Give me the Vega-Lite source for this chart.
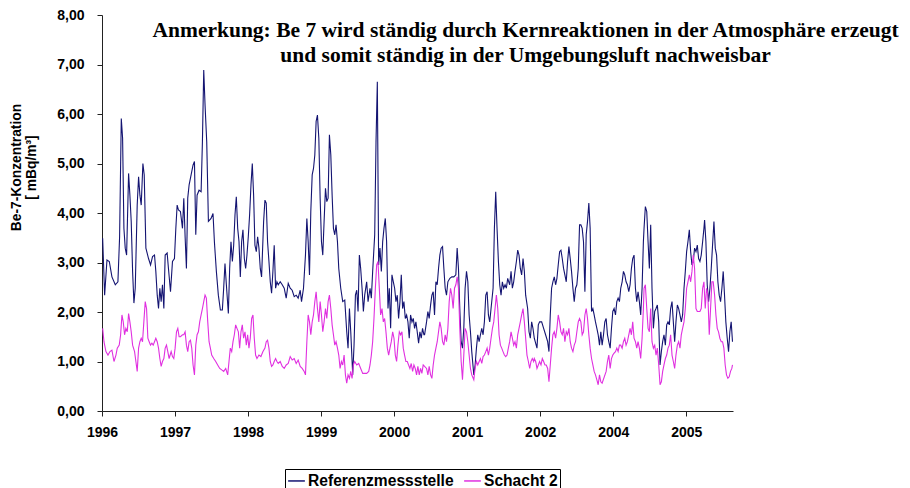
{
  "$schema": "https://vega.github.io/schema/vega-lite/v6.json",
  "width": 631,
  "height": 396,
  "autosize": {"type": "none"},
  "padding": {"left": 102, "top": 15, "right": 177, "bottom": 77},
  "background": "white",
  "config": {"view": {"stroke": null}, "font": "Liberation Sans"},
  "datasets": {
    "referenz": [
      {"t":1996.009,"v":3.49},{"t":1996.036,"v":2.34},{"t":1996.068,"v":3.05},{"t":1996.100,"v":3.02},{"t":1996.136,"v":2.71},{"t":1996.182,"v":2.55},{"t":1996.218,"v":2.61},{"t":1996.241,"v":3.52},{"t":1996.264,"v":5.91},{"t":1996.282,"v":5.51},{"t":1996.300,"v":3.69},{"t":1996.318,"v":3.29},{"t":1996.337,"v":3.15},{"t":1996.364,"v":4.80},{"t":1996.382,"v":4.36},{"t":1996.400,"v":3.83},{"t":1996.419,"v":2.82},{"t":1996.437,"v":2.18},{"t":1996.455,"v":2.48},{"t":1996.482,"v":4.16},{"t":1996.501,"v":4.73},{"t":1996.519,"v":4.36},{"t":1996.537,"v":4.16},{"t":1996.560,"v":5.00},{"t":1996.578,"v":4.77},{"t":1996.601,"v":3.29},{"t":1996.637,"v":3.08},{"t":1996.665,"v":2.95},{"t":1996.692,"v":3.12},{"t":1996.719,"v":3.15},{"t":1996.737,"v":2.82},{"t":1996.756,"v":2.34},{"t":1996.774,"v":2.07},{"t":1996.792,"v":2.48},{"t":1996.810,"v":2.21},{"t":1996.828,"v":2.55},{"t":1996.847,"v":2.07},{"t":1996.865,"v":3.15},{"t":1996.892,"v":3.19},{"t":1996.910,"v":2.88},{"t":1996.938,"v":2.41},{"t":1996.965,"v":3.02},{"t":1996.992,"v":3.08},{"t":1997.011,"v":3.69},{"t":1997.029,"v":4.16},{"t":1997.047,"v":4.06},{"t":1997.074,"v":4.03},{"t":1997.102,"v":3.69},{"t":1997.120,"v":4.30},{"t":1997.138,"v":3.52},{"t":1997.156,"v":2.88},{"t":1997.174,"v":4.30},{"t":1997.193,"v":4.57},{"t":1997.220,"v":4.77},{"t":1997.247,"v":4.97},{"t":1997.266,"v":5.04},{"t":1997.284,"v":3.56},{"t":1997.302,"v":4.36},{"t":1997.329,"v":4.46},{"t":1997.357,"v":4.43},{"t":1997.375,"v":5.44},{"t":1997.393,"v":6.89},
      {"t":1997.411,"v":6.18},{"t":1997.434,"v":5.44},{"t":1997.457,"v":3.83},{"t":1997.493,"v":3.89},{"t":1997.520,"v":3.99},{"t":1997.539,"v":3.42},{"t":1997.566,"v":2.82},{"t":1997.593,"v":2.34},{"t":1997.621,"v":2.04},{"t":1997.648,"v":2.04},{"t":1997.666,"v":2.48},{"t":1997.684,"v":2.98},{"t":1997.703,"v":2.55},{"t":1997.730,"v":1.97},{"t":1997.748,"v":2.88},{"t":1997.766,"v":3.42},{"t":1997.785,"v":3.02},{"t":1997.803,"v":3.35},{"t":1997.821,"v":3.96},{"t":1997.839,"v":4.33},{"t":1997.858,"v":3.69},{"t":1997.876,"v":3.42},{"t":1997.894,"v":2.71},{"t":1997.912,"v":3.42},{"t":1997.930,"v":3.66},{"t":1997.949,"v":3.08},{"t":1997.967,"v":2.88},{"t":1997.985,"v":3.15},{"t":1998.003,"v":3.52},{"t":1998.021,"v":3.96},{"t":1998.040,"v":4.57},{"t":1998.058,"v":5.00},{"t":1998.076,"v":4.36},{"t":1998.094,"v":3.35},{"t":1998.113,"v":3.22},{"t":1998.131,"v":3.52},{"t":1998.149,"v":3.29},{"t":1998.167,"v":2.88},{"t":1998.185,"v":2.71},{"t":1998.213,"v":3.83},{"t":1998.231,"v":4.26},{"t":1998.249,"v":4.20},{"t":1998.267,"v":3.42},{"t":1998.286,"v":3.02},{"t":1998.304,"v":2.61},{"t":1998.322,"v":2.38},{"t":1998.340,"v":2.82},{"t":1998.358,"v":3.35},{"t":1998.377,"v":2.48},{"t":1998.395,"v":2.61},{"t":1998.413,"v":2.55},{"t":1998.440,"v":2.61},{"t":1998.468,"v":2.55},{"t":1998.495,"v":2.48},{"t":1998.522,"v":2.28},{"t":1998.550,"v":2.58},{"t":1998.577,"v":2.48},{"t":1998.604,"v":2.44},{"t":1998.632,"v":2.31},{"t":1998.659,"v":2.34},{"t":1998.686,"v":2.28},{"t":1998.714,"v":2.44},{"t":1998.732,"v":2.21},{"t":1998.759,"v":2.48},{"t":1998.786,"v":3.15},{"t":1998.805,"v":3.89},{"t":1998.823,"v":3.42},{"t":1998.841,"v":2.75},{"t":1998.859,"v":4.03},{"t":1998.878,"v":4.77},{"t":1998.896,"v":4.90},
      {"t":1998.914,"v":5.17},{"t":1998.932,"v":5.85},{"t":1998.950,"v":5.98},{"t":1998.969,"v":5.51},{"t":1998.987,"v":4.30},{"t":1999.005,"v":3.42},{"t":1999.023,"v":3.15},{"t":1999.041,"v":3.83},{"t":1999.060,"v":4.50},{"t":1999.078,"v":4.23},{"t":1999.096,"v":4.30},{"t":1999.114,"v":5.58},{"t":1999.133,"v":5.17},{"t":1999.151,"v":4.36},{"t":1999.169,"v":3.69},{"t":1999.187,"v":3.56},{"t":1999.205,"v":3.76},{"t":1999.224,"v":3.42},{"t":1999.242,"v":2.88},{"t":1999.269,"v":2.48},{"t":1999.296,"v":2.21},{"t":1999.324,"v":2.24},{"t":1999.351,"v":1.60},{"t":1999.369,"v":1.27},{"t":1999.388,"v":2.07},{"t":1999.406,"v":1.60},{"t":1999.433,"v":0.73},{"t":1999.451,"v":1.33},{"t":1999.470,"v":2.34},{"t":1999.488,"v":2.44},{"t":1999.506,"v":2.01},{"t":1999.524,"v":3.15},{"t":1999.542,"v":2.88},{"t":1999.561,"v":2.48},{"t":1999.579,"v":2.01},{"t":1999.597,"v":2.34},{"t":1999.624,"v":2.61},{"t":1999.643,"v":2.21},{"t":1999.670,"v":2.48},{"t":1999.688,"v":2.28},{"t":1999.706,"v":2.82},{"t":1999.734,"v":3.56},{"t":1999.752,"v":5.44},{"t":1999.770,"v":6.65},{"t":1999.788,"v":2.95},{"t":1999.806,"v":3.29},{"t":1999.825,"v":2.82},{"t":1999.843,"v":3.42},{"t":1999.861,"v":3.69},{"t":1999.879,"v":3.89},{"t":1999.897,"v":3.42},{"t":1999.916,"v":2.07},{"t":1999.934,"v":2.48},{"t":1999.952,"v":1.67},{"t":1999.970,"v":2.75},{"t":1999.989,"v":2.61},{"t":2000.007,"v":2.48},{"t":2000.025,"v":2.21},{"t":2000.043,"v":2.34},{"t":2000.061,"v":1.87},{"t":2000.080,"v":2.21},{"t":2000.098,"v":2.75},{"t":2000.116,"v":2.07},{"t":2000.134,"v":2.21},{"t":2000.153,"v":1.87},{"t":2000.171,"v":1.94},{"t":2000.189,"v":1.80},{"t":2000.207,"v":1.47},{"t":2000.225,"v":1.94},{"t":2000.244,"v":1.80},{"t":2000.262,"v":1.87},{"t":2000.280,"v":1.67},{"t":2000.298,"v":1.80},{"t":2000.316,"v":1.60},{"t":2000.335,"v":1.37},{"t":2000.353,"v":1.60},{"t":2000.371,"v":1.47},{"t":2000.389,"v":1.67},{"t":2000.408,"v":1.54},
      {"t":2000.417,"v":1.54},{"t":2000.444,"v":1.80},{"t":2000.462,"v":2.01},{"t":2000.480,"v":1.87},{"t":2000.499,"v":2.14},{"t":2000.517,"v":2.34},{"t":2000.535,"v":2.41},{"t":2000.553,"v":1.94},{"t":2000.572,"v":2.61},{"t":2000.590,"v":2.55},{"t":2000.608,"v":2.88},{"t":2000.626,"v":3.15},{"t":2000.644,"v":3.29},{"t":2000.663,"v":3.32},{"t":2000.681,"v":2.88},{"t":2000.699,"v":2.48},{"t":2000.717,"v":2.34},{"t":2000.736,"v":2.61},{"t":2000.763,"v":2.68},{"t":2000.790,"v":2.71},{"t":2000.817,"v":2.71},{"t":2000.845,"v":2.75},{"t":2000.863,"v":3.29},{"t":2000.881,"v":2.88},{"t":2000.899,"v":2.07},{"t":2000.918,"v":1.40},{"t":2000.936,"v":1.27},{"t":2000.954,"v":1.67},{"t":2000.972,"v":2.48},{"t":2000.991,"v":2.82},{"t":2001.009,"v":2.61},{"t":2001.027,"v":1.94},{"t":2001.045,"v":1.60},{"t":2001.063,"v":1.20},{"t":2001.091,"v":0.73},{"t":2001.109,"v":0.93},{"t":2001.127,"v":1.27},{"t":2001.145,"v":1.54},{"t":2001.164,"v":1.40},{"t":2001.182,"v":1.54},{"t":2001.200,"v":1.67},{"t":2001.218,"v":1.54},{"t":2001.236,"v":1.80},{"t":2001.255,"v":2.34},{"t":2001.273,"v":2.41},{"t":2001.291,"v":1.94},{"t":2001.309,"v":1.80},{"t":2001.327,"v":2.07},{"t":2001.355,"v":2.48},{"t":2001.373,"v":3.69},{"t":2001.391,"v":4.43},{"t":2001.409,"v":3.69},{"t":2001.428,"v":3.02},{"t":2001.446,"v":2.55},{"t":2001.464,"v":2.34},{"t":2001.482,"v":2.61},{"t":2001.500,"v":2.48},{"t":2001.519,"v":2.55},{"t":2001.537,"v":2.48},{"t":2001.555,"v":2.68},{"t":2001.582,"v":2.55},{"t":2001.601,"v":2.82},{"t":2001.619,"v":2.48},{"t":2001.637,"v":2.61},{"t":2001.655,"v":2.82},{"t":2001.674,"v":3.02},{"t":2001.692,"v":3.25},{"t":2001.710,"v":3.15},{"t":2001.728,"v":2.88},{"t":2001.746,"v":2.75},{"t":2001.765,"v":3.08},{"t":2001.783,"v":2.82},{"t":2001.801,"v":2.34},{"t":2001.828,"v":2.07},{"t":2001.847,"v":1.60},{"t":2001.865,"v":1.47},{"t":2001.883,"v":1.80},{"t":2001.901,"v":1.67},
      {"t":2001.919,"v":1.47},{"t":2001.956,"v":1.27},{"t":2001.974,"v":1.74},{"t":2001.992,"v":1.80},{"t":2002.020,"v":1.80},{"t":2002.047,"v":1.67},{"t":2002.074,"v":1.54},{"t":2002.102,"v":1.40},{"t":2002.120,"v":1.20},{"t":2002.138,"v":1.94},{"t":2002.156,"v":2.48},{"t":2002.174,"v":2.61},{"t":2002.193,"v":2.71},{"t":2002.211,"v":2.55},{"t":2002.229,"v":2.68},{"t":2002.247,"v":2.95},{"t":2002.266,"v":3.22},{"t":2002.284,"v":3.25},{"t":2002.302,"v":3.08},{"t":2002.320,"v":2.88},{"t":2002.338,"v":2.75},{"t":2002.357,"v":2.61},{"t":2002.375,"v":3.02},{"t":2002.393,"v":3.32},{"t":2002.411,"v":3.08},{"t":2002.429,"v":2.82},{"t":2002.448,"v":2.48},{"t":2002.466,"v":2.21},{"t":2002.484,"v":2.48},{"t":2002.502,"v":2.55},{"t":2002.521,"v":2.88},{"t":2002.539,"v":3.76},{"t":2002.557,"v":3.76},{"t":2002.575,"v":3.69},{"t":2002.593,"v":3.42},{"t":2002.612,"v":2.41},{"t":2002.630,"v":3.56},{"t":2002.648,"v":3.83},{"t":2002.666,"v":4.20},{"t":2002.684,"v":3.69},{"t":2002.703,"v":2.01},{"t":2002.721,"v":2.07},{"t":2002.739,"v":1.94},{"t":2002.757,"v":1.80},{"t":2002.776,"v":1.67},{"t":2002.794,"v":1.54},{"t":2002.812,"v":1.33},{"t":2002.830,"v":1.60},{"t":2002.848,"v":1.33},{"t":2002.867,"v":1.54},{"t":2002.885,"v":1.80},{"t":2002.903,"v":1.87},{"t":2002.921,"v":1.54},{"t":2002.939,"v":1.40},{"t":2002.958,"v":1.27},{"t":2002.976,"v":1.67},{"t":2002.994,"v":2.01},{"t":2003.012,"v":2.07},{"t":2003.031,"v":1.94},{"t":2003.049,"v":2.21},{"t":2003.067,"v":2.28},{"t":2003.085,"v":2.21},{"t":2003.103,"v":2.48},{"t":2003.122,"v":2.61},{"t":2003.140,"v":2.82},{"t":2003.158,"v":2.75},{"t":2003.176,"v":2.61},{"t":2003.194,"v":2.55},{"t":2003.213,"v":2.41},{"t":2003.231,"v":2.55},{"t":2003.249,"v":2.88},{"t":2003.267,"v":3.08},{"t":2003.285,"v":3.15},{"t":2003.304,"v":2.48},{"t":2003.322,"v":2.21},{"t":2003.340,"v":2.41},{"t":2003.358,"v":2.21},{"t":2003.376,"v":1.94},{"t":2003.395,"v":2.48},{"t":2003.413,"v":3.42},
      {"t":2003.422,"v":3.69},{"t":2003.440,"v":4.13},{"t":2003.459,"v":4.03},{"t":2003.477,"v":3.42},{"t":2003.495,"v":2.88},{"t":2003.513,"v":3.76},{"t":2003.531,"v":2.48},{"t":2003.550,"v":1.67},{"t":2003.568,"v":2.01},{"t":2003.586,"v":2.07},{"t":2003.604,"v":2.14},{"t":2003.623,"v":1.80},{"t":2003.641,"v":0.93},{"t":2003.659,"v":1.20},{"t":2003.677,"v":1.40},{"t":2003.695,"v":1.54},{"t":2003.714,"v":1.33},{"t":2003.732,"v":1.74},{"t":2003.750,"v":1.80},{"t":2003.768,"v":1.74},{"t":2003.786,"v":2.07},{"t":2003.805,"v":2.21},{"t":2003.823,"v":1.80},{"t":2003.841,"v":1.40},{"t":2003.859,"v":1.80},{"t":2003.878,"v":2.14},{"t":2003.896,"v":2.07},{"t":2003.914,"v":1.94},{"t":2003.932,"v":1.80},{"t":2003.950,"v":1.94},{"t":2003.969,"v":2.48},{"t":2003.987,"v":2.82},{"t":2004.005,"v":3.22},{"t":2004.023,"v":3.42},{"t":2004.042,"v":3.66},{"t":2004.060,"v":3.22},{"t":2004.078,"v":2.95},{"t":2004.096,"v":3.02},{"t":2004.114,"v":3.29},{"t":2004.133,"v":3.22},{"t":2004.151,"v":3.35},{"t":2004.169,"v":3.08},{"t":2004.187,"v":3.02},{"t":2004.205,"v":3.15},{"t":2004.224,"v":3.42},{"t":2004.242,"v":3.69},{"t":2004.251,"v":3.86},{"t":2004.269,"v":3.42},{"t":2004.287,"v":2.55},{"t":2004.306,"v":2.21},{"t":2004.324,"v":2.48},{"t":2004.342,"v":2.88},{"t":2004.360,"v":3.35},{"t":2004.379,"v":3.83},{"t":2004.397,"v":3.29},{"t":2004.415,"v":3.15},{"t":2004.433,"v":2.61},{"t":2004.451,"v":2.34},{"t":2004.470,"v":2.21},{"t":2004.488,"v":2.48},{"t":2004.506,"v":2.82},{"t":2004.524,"v":2.34},{"t":2004.542,"v":1.80},{"t":2004.561,"v":1.47},{"t":2004.579,"v":1.20},{"t":2004.597,"v":1.60},{"t":2004.615,"v":1.80},{"t":2004.633,"v":1.40}
    ],
    "schacht": [
      {"t":1996.009,"v":1.67},{"t":1996.027,"v":1.40},{"t":1996.054,"v":1.20},{"t":1996.082,"v":1.13},{"t":1996.109,"v":1.20},{"t":1996.136,"v":1.23},{"t":1996.164,"v":1.00},{"t":1996.191,"v":1.13},{"t":1996.209,"v":1.27},{"t":1996.236,"v":1.33},{"t":1996.255,"v":1.54},{"t":1996.273,"v":1.94},{"t":1996.291,"v":1.80},{"t":1996.309,"v":1.54},{"t":1996.327,"v":1.67},{"t":1996.346,"v":1.60},{"t":1996.364,"v":1.97},{"t":1996.382,"v":1.80},{"t":1996.400,"v":1.60},{"t":1996.419,"v":1.33},{"t":1996.446,"v":1.20},{"t":1996.464,"v":1.00},{"t":1996.482,"v":0.80},{"t":1996.501,"v":1.27},{"t":1996.519,"v":1.40},{"t":1996.537,"v":1.47},{"t":1996.555,"v":1.40},{"t":1996.573,"v":1.80},{"t":1996.592,"v":2.21},{"t":1996.610,"v":2.07},{"t":1996.628,"v":1.47},{"t":1996.646,"v":1.40},{"t":1996.664,"v":1.33},{"t":1996.683,"v":1.37},{"t":1996.701,"v":1.33},{"t":1996.719,"v":1.40},{"t":1996.737,"v":1.47},{"t":1996.756,"v":1.40},{"t":1996.774,"v":1.27},{"t":1996.792,"v":1.06},{"t":1996.810,"v":0.90},{"t":1996.828,"v":1.00},{"t":1996.847,"v":1.06},{"t":1996.865,"v":1.27},{"t":1996.883,"v":1.33},{"t":1996.901,"v":1.20},{"t":1996.919,"v":1.06},{"t":1996.947,"v":1.20},{"t":1996.965,"v":1.10},{"t":1996.983,"v":1.06},{"t":1997.001,"v":1.27},{"t":1997.020,"v":1.60},{"t":1997.038,"v":1.67},{"t":1997.056,"v":1.50},{"t":1997.074,"v":1.50},{"t":1997.102,"v":1.54},{"t":1997.120,"v":1.54},{"t":1997.138,"v":1.60},{"t":1997.156,"v":1.33},{"t":1997.174,"v":1.20},{"t":1997.193,"v":1.40},{"t":1997.211,"v":1.43},{"t":1997.229,"v":1.27},{"t":1997.247,"v":0.93},{"t":1997.266,"v":0.73},{"t":1997.284,"v":1.33},{"t":1997.302,"v":1.54},{"t":1997.320,"v":1.60},{"t":1997.338,"v":1.80},{"t":1997.357,"v":1.94},{"t":1997.375,"v":2.07},{"t":1997.393,"v":2.21},
      {"t":1997.411,"v":2.34},{"t":1997.429,"v":2.28},{"t":1997.448,"v":1.80},{"t":1997.466,"v":1.40},{"t":1997.484,"v":1.27},{"t":1997.502,"v":1.13},{"t":1997.530,"v":1.06},{"t":1997.557,"v":1.00},{"t":1997.584,"v":0.93},{"t":1997.612,"v":0.86},{"t":1997.639,"v":0.83},{"t":1997.666,"v":0.80},{"t":1997.694,"v":0.86},{"t":1997.721,"v":0.73},{"t":1997.739,"v":1.00},{"t":1997.757,"v":1.27},{"t":1997.776,"v":1.20},{"t":1997.794,"v":1.40},{"t":1997.812,"v":1.54},{"t":1997.830,"v":1.74},{"t":1997.848,"v":1.67},{"t":1997.867,"v":1.60},{"t":1997.885,"v":1.27},{"t":1997.903,"v":1.60},{"t":1997.921,"v":1.74},{"t":1997.939,"v":1.47},{"t":1997.958,"v":1.60},{"t":1997.976,"v":1.33},{"t":1997.994,"v":1.54},{"t":1998.012,"v":1.27},{"t":1998.030,"v":1.47},{"t":1998.049,"v":1.87},{"t":1998.067,"v":1.94},{"t":1998.085,"v":1.47},{"t":1998.103,"v":1.13},{"t":1998.122,"v":1.06},{"t":1998.149,"v":1.13},{"t":1998.176,"v":1.10},{"t":1998.204,"v":1.20},{"t":1998.231,"v":1.27},{"t":1998.249,"v":1.40},{"t":1998.267,"v":1.43},{"t":1998.286,"v":1.27},{"t":1998.304,"v":1.00},{"t":1998.322,"v":0.90},{"t":1998.340,"v":0.93},{"t":1998.358,"v":1.00},{"t":1998.377,"v":1.06},{"t":1998.395,"v":1.00},{"t":1998.413,"v":0.96},{"t":1998.440,"v":1.00},{"t":1998.468,"v":0.90},{"t":1998.495,"v":0.86},{"t":1998.522,"v":0.93},{"t":1998.550,"v":0.96},{"t":1998.577,"v":1.10},{"t":1998.604,"v":1.03},{"t":1998.632,"v":1.06},{"t":1998.659,"v":0.96},{"t":1998.686,"v":1.03},{"t":1998.714,"v":0.90},{"t":1998.741,"v":0.86},{"t":1998.768,"v":0.80},{"t":1998.786,"v":0.73},{"t":1998.805,"v":1.40},{"t":1998.823,"v":1.94},{"t":1998.841,"v":1.80},{"t":1998.859,"v":1.54},{"t":1998.878,"v":1.80},{"t":1998.896,"v":1.94},
      {"t":1998.914,"v":2.21},{"t":1998.932,"v":2.41},{"t":1998.950,"v":2.07},{"t":1998.969,"v":1.80},{"t":1998.987,"v":2.21},{"t":1999.005,"v":1.94},{"t":1999.023,"v":1.60},{"t":1999.041,"v":1.80},{"t":1999.060,"v":2.07},{"t":1999.078,"v":1.87},{"t":1999.096,"v":2.21},{"t":1999.114,"v":2.34},{"t":1999.133,"v":2.07},{"t":1999.151,"v":1.74},{"t":1999.169,"v":1.54},{"t":1999.187,"v":1.33},{"t":1999.205,"v":1.40},{"t":1999.224,"v":1.27},{"t":1999.242,"v":1.13},{"t":1999.260,"v":0.86},{"t":1999.278,"v":1.00},{"t":1999.296,"v":0.93},{"t":1999.315,"v":1.13},{"t":1999.333,"v":0.73},{"t":1999.351,"v":0.56},{"t":1999.369,"v":0.73},{"t":1999.388,"v":0.66},{"t":1999.406,"v":0.80},{"t":1999.424,"v":0.66},{"t":1999.442,"v":0.93},{"t":1999.460,"v":1.00},{"t":1999.488,"v":0.93},{"t":1999.515,"v":0.96},{"t":1999.542,"v":0.86},{"t":1999.570,"v":0.76},{"t":1999.597,"v":0.76},{"t":1999.624,"v":0.76},{"t":1999.652,"v":0.80},{"t":1999.670,"v":0.93},{"t":1999.688,"v":1.13},{"t":1999.706,"v":1.40},{"t":1999.724,"v":1.87},{"t":1999.743,"v":2.48},{"t":1999.761,"v":2.95},{"t":1999.779,"v":3.02},{"t":1999.797,"v":2.48},{"t":1999.815,"v":1.94},{"t":1999.834,"v":2.07},{"t":1999.852,"v":1.80},{"t":1999.870,"v":1.87},{"t":1999.888,"v":1.60},{"t":1999.907,"v":1.27},{"t":1999.925,"v":1.13},{"t":1999.943,"v":1.27},{"t":1999.961,"v":1.40},{"t":1999.980,"v":1.60},{"t":1999.998,"v":1.47},{"t":2000.016,"v":1.13},{"t":2000.034,"v":1.00},{"t":2000.052,"v":1.33},{"t":2000.071,"v":1.60},{"t":2000.089,"v":1.54},{"t":2000.107,"v":1.60},{"t":2000.125,"v":1.27},{"t":2000.143,"v":1.13},{"t":2000.161,"v":1.00},{"t":2000.180,"v":1.00},{"t":2000.198,"v":0.93},{"t":2000.216,"v":0.86},{"t":2000.234,"v":0.96},{"t":2000.253,"v":0.80},{"t":2000.271,"v":0.93},{"t":2000.289,"v":0.86},{"t":2000.307,"v":0.73},{"t":2000.325,"v":0.90},{"t":2000.344,"v":0.73},{"t":2000.362,"v":0.86},{"t":2000.380,"v":0.76},{"t":2000.398,"v":0.93},
      {"t":2000.417,"v":0.90},{"t":2000.444,"v":0.86},{"t":2000.462,"v":0.73},{"t":2000.480,"v":0.90},{"t":2000.499,"v":0.73},{"t":2000.517,"v":0.66},{"t":2000.535,"v":0.93},{"t":2000.553,"v":1.13},{"t":2000.572,"v":1.27},{"t":2000.590,"v":1.40},{"t":2000.608,"v":1.60},{"t":2000.626,"v":1.80},{"t":2000.644,"v":1.67},{"t":2000.663,"v":1.40},{"t":2000.681,"v":1.33},{"t":2000.699,"v":1.54},{"t":2000.717,"v":1.40},{"t":2000.736,"v":1.67},{"t":2000.754,"v":2.21},{"t":2000.772,"v":2.48},{"t":2000.790,"v":2.34},{"t":2000.808,"v":2.07},{"t":2000.827,"v":2.48},{"t":2000.845,"v":2.55},{"t":2000.863,"v":2.71},{"t":2000.881,"v":2.48},{"t":2000.899,"v":1.67},{"t":2000.918,"v":1.00},{"t":2000.936,"v":0.63},{"t":2000.954,"v":1.13},{"t":2000.972,"v":1.67},{"t":2000.991,"v":1.60},{"t":2001.009,"v":1.40},{"t":2001.027,"v":1.13},{"t":2001.045,"v":0.86},{"t":2001.063,"v":0.73},{"t":2001.091,"v":0.63},{"t":2001.109,"v":0.86},{"t":2001.127,"v":1.00},{"t":2001.145,"v":0.93},{"t":2001.164,"v":1.00},{"t":2001.182,"v":1.06},{"t":2001.200,"v":0.96},{"t":2001.218,"v":1.10},{"t":2001.236,"v":1.13},{"t":2001.255,"v":1.20},{"t":2001.273,"v":1.27},{"t":2001.291,"v":1.13},{"t":2001.309,"v":1.27},{"t":2001.327,"v":1.47},{"t":2001.346,"v":1.67},{"t":2001.364,"v":1.80},{"t":2001.382,"v":2.07},{"t":2001.400,"v":2.34},{"t":2001.419,"v":2.07},{"t":2001.437,"v":1.54},{"t":2001.455,"v":1.33},{"t":2001.473,"v":1.27},{"t":2001.491,"v":1.20},{"t":2001.510,"v":1.13},{"t":2001.528,"v":1.10},{"t":2001.546,"v":1.13},{"t":2001.564,"v":1.27},{"t":2001.582,"v":1.40},{"t":2001.601,"v":1.60},{"t":2001.619,"v":1.47},{"t":2001.637,"v":1.33},{"t":2001.655,"v":1.40},{"t":2001.674,"v":1.27},{"t":2001.692,"v":1.54},{"t":2001.710,"v":1.67},{"t":2001.728,"v":1.80},{"t":2001.746,"v":1.94},{"t":2001.765,"v":2.07},{"t":2001.783,"v":1.80},{"t":2001.801,"v":1.47},{"t":2001.819,"v":1.13},{"t":2001.838,"v":1.00},{"t":2001.856,"v":0.86},{"t":2001.874,"v":1.00},{"t":2001.892,"v":1.06},{"t":2001.910,"v":1.00},
      {"t":2001.919,"v":1.06},{"t":2001.938,"v":1.00},{"t":2001.956,"v":0.86},{"t":2001.974,"v":0.93},{"t":2001.992,"v":1.00},{"t":2002.011,"v":0.93},{"t":2002.029,"v":1.06},{"t":2002.047,"v":1.00},{"t":2002.065,"v":0.93},{"t":2002.083,"v":0.93},{"t":2002.102,"v":0.86},{"t":2002.120,"v":0.59},{"t":2002.138,"v":0.93},{"t":2002.156,"v":1.27},{"t":2002.174,"v":1.54},{"t":2002.193,"v":1.60},{"t":2002.211,"v":1.47},{"t":2002.229,"v":1.67},{"t":2002.247,"v":1.94},{"t":2002.266,"v":1.80},{"t":2002.284,"v":1.60},{"t":2002.302,"v":1.54},{"t":2002.320,"v":1.67},{"t":2002.338,"v":1.40},{"t":2002.357,"v":1.60},{"t":2002.375,"v":1.54},{"t":2002.393,"v":1.67},{"t":2002.411,"v":1.40},{"t":2002.429,"v":1.27},{"t":2002.448,"v":1.20},{"t":2002.466,"v":1.33},{"t":2002.484,"v":1.40},{"t":2002.502,"v":1.60},{"t":2002.521,"v":1.80},{"t":2002.539,"v":1.87},{"t":2002.557,"v":1.80},{"t":2002.575,"v":1.54},{"t":2002.593,"v":1.60},{"t":2002.612,"v":1.94},{"t":2002.630,"v":2.07},{"t":2002.648,"v":1.87},{"t":2002.666,"v":1.54},{"t":2002.684,"v":1.27},{"t":2002.703,"v":1.06},{"t":2002.721,"v":0.93},{"t":2002.739,"v":0.80},{"t":2002.757,"v":0.73},{"t":2002.776,"v":0.63},{"t":2002.794,"v":0.53},{"t":2002.812,"v":0.73},{"t":2002.830,"v":0.59},{"t":2002.848,"v":0.56},{"t":2002.903,"v":0.80},{"t":2002.921,"v":1.00},{"t":2002.939,"v":1.13},{"t":2002.958,"v":0.86},{"t":2002.976,"v":1.06},{"t":2002.994,"v":1.13},{"t":2003.012,"v":1.17},{"t":2003.031,"v":1.20},{"t":2003.049,"v":1.27},{"t":2003.067,"v":1.20},{"t":2003.085,"v":1.33},{"t":2003.103,"v":1.33},{"t":2003.122,"v":1.27},{"t":2003.140,"v":1.40},{"t":2003.158,"v":1.47},{"t":2003.176,"v":1.33},{"t":2003.194,"v":1.40},{"t":2003.213,"v":1.54},{"t":2003.231,"v":1.67},{"t":2003.249,"v":1.54},{"t":2003.267,"v":1.80},{"t":2003.285,"v":1.47},{"t":2003.304,"v":1.40},{"t":2003.322,"v":1.27},{"t":2003.340,"v":1.40},{"t":2003.358,"v":1.27},{"t":2003.376,"v":1.06},{"t":2003.395,"v":1.47},{"t":2003.413,"v":2.07},
      {"t":2003.422,"v":2.48},{"t":2003.440,"v":2.55},{"t":2003.459,"v":2.07},{"t":2003.477,"v":1.67},{"t":2003.495,"v":1.60},{"t":2003.513,"v":2.07},{"t":2003.531,"v":1.40},{"t":2003.550,"v":1.27},{"t":2003.568,"v":1.33},{"t":2003.586,"v":1.13},{"t":2003.604,"v":1.27},{"t":2003.623,"v":0.93},{"t":2003.641,"v":0.53},{"t":2003.659,"v":0.59},{"t":2003.677,"v":0.80},{"t":2003.695,"v":0.93},{"t":2003.714,"v":1.06},{"t":2003.732,"v":1.13},{"t":2003.750,"v":1.27},{"t":2003.768,"v":1.33},{"t":2003.786,"v":1.54},{"t":2003.805,"v":1.13},{"t":2003.823,"v":1.00},{"t":2003.841,"v":0.86},{"t":2003.859,"v":1.13},{"t":2003.878,"v":1.33},{"t":2003.896,"v":1.40},{"t":2003.914,"v":1.27},{"t":2003.932,"v":1.54},{"t":2003.950,"v":1.67},{"t":2003.969,"v":1.80},{"t":2003.987,"v":2.07},{"t":2004.005,"v":2.48},{"t":2004.023,"v":2.61},{"t":2004.042,"v":2.75},{"t":2004.060,"v":2.61},{"t":2004.078,"v":2.82},{"t":2004.096,"v":3.15},{"t":2004.114,"v":2.88},{"t":2004.133,"v":2.07},{"t":2004.151,"v":2.01},{"t":2004.169,"v":2.01},{"t":2004.187,"v":2.01},{"t":2004.205,"v":2.07},{"t":2004.224,"v":2.48},{"t":2004.242,"v":2.61},{"t":2004.260,"v":2.07},{"t":2004.278,"v":2.48},{"t":2004.296,"v":2.34},{"t":2004.315,"v":1.54},{"t":2004.333,"v":2.07},{"t":2004.351,"v":2.61},{"t":2004.369,"v":2.61},{"t":2004.388,"v":2.34},{"t":2004.406,"v":1.94},{"t":2004.424,"v":1.67},{"t":2004.442,"v":1.60},{"t":2004.460,"v":1.47},{"t":2004.479,"v":1.40},{"t":2004.497,"v":1.40},{"t":2004.515,"v":1.27},{"t":2004.533,"v":0.93},{"t":2004.551,"v":0.73},{"t":2004.570,"v":0.66},{"t":2004.588,"v":0.69},{"t":2004.606,"v":0.80},{"t":2004.624,"v":0.86},{"t":2004.633,"v":0.93}
    ]
  },
  "layer": [
    {
      "data": {"name": "referenz"},
      "mark": {"type": "line", "strokeWidth": 1.1},
      "encoding": {
        "x": {
          "field": "t", "type": "quantitative",
          "scale": {"domain": [1996, 2004.64], "nice": false, "zero": false},
          "axis": {
            "title": null, "grid": false,
            "values": [1996, 1997, 1998, 1999, 2000, 2001, 2002, 2003, 2004],
            "labelExpr": "datum.value < 2003 ? '' + datum.value : '' + (datum.value + 1)",
            "domainColor": "#222", "tickColor": "#222", "tickSize": 5,
            "labelFont": "Liberation Sans", "labelFontWeight": "bold", "labelFontSize": 14,
            "labelColor": "#000", "labelPadding": 9, "labelFlush": false, "labelOverlap": false
          }
        },
        "y": {
          "field": "v", "type": "quantitative",
          "scale": {"domain": [0, 8], "nice": false},
          "axis": {
            "grid": false,
            "values": [0, 1, 2, 3, 4, 5, 6, 7, 8],
            "labelExpr": "replace(format(datum.value, '.2f'), '.', ',')",
            "domainColor": "#222", "tickColor": "#222", "tickSize": 5,
            "labelFont": "Liberation Sans", "labelFontWeight": "bold", "labelFontSize": 14,
            "labelColor": "#000", "labelPadding": 13,
            "title": ["Be-7-Konzentration", "[ mBq/m³]"],
            "titleFont": "Liberation Sans", "titleFontWeight": "bold", "titleFontSize": 13.8,
            "titleColor": "#000", "titleAngle": -90, "titleAlign": "center",
            "titleBaseline": "top", "titleLineHeight": 15, "titleX": -93, "titleY": 152
          }
        },
        "color": {
          "datum": "Referenzmessstelle",
          "scale": {"domain": ["Referenzmessstelle", "Schacht 2"], "range": ["#141472", "#e030e0"]},
          "legend": {
            "title": null, "orient": "none", "legendX": 183, "legendY": 454,
            "direction": "horizontal", "strokeColor": "#000", "fillColor": "#fff",
            "padding": 2, "symbolType": "stroke", "symbolSize": 280, "symbolStrokeWidth": 1.5,
            "labelFont": "Liberation Sans", "labelFontWeight": "bold", "labelFontSize": 15.6,
            "labelColor": "#000", "columnPadding": 7, "labelOffset": 2
          }
        }
      }
    },
    {
      "data": {"name": "schacht"},
      "mark": {"type": "line", "strokeWidth": 1.1},
      "encoding": {
        "x": {"field": "t", "type": "quantitative"},
        "y": {"field": "v", "type": "quantitative"},
        "color": {"datum": "Schacht 2"}
      }
    },
    {
      "data": {"values": [{}]},
      "mark": {
        "type": "text",
        "text": ["Anmerkung: Be 7 wird ständig durch Kernreaktionen in der Atmosphäre erzeugt", "und somit ständig in der Umgebungsluft nachweisbar"],
        "font": "Liberation Serif", "fontWeight": "bold", "fontSize": 21.5,
        "lineHeight": 25, "align": "center", "baseline": "top", "color": "#000"
      },
      "encoding": {
        "x": {"datum": 2001.8},
        "y": {"datum": 7.9}
      }
    }
  ]
}
